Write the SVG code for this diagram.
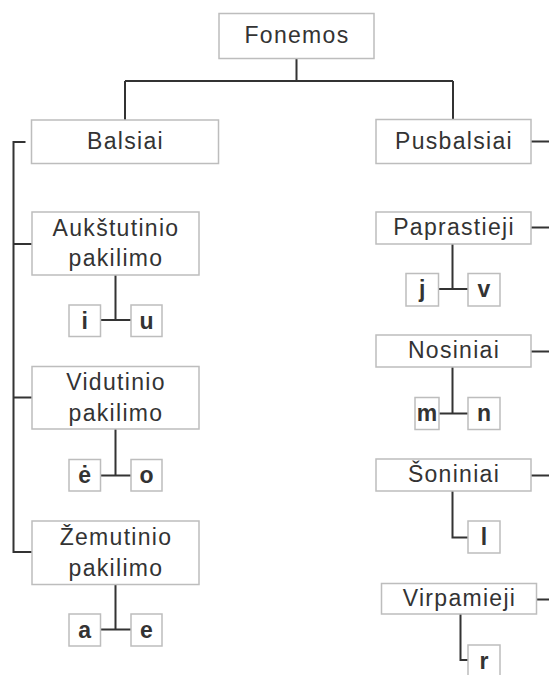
<svg xmlns="http://www.w3.org/2000/svg" width="549" height="675" viewBox="0 0 549 675">
  <style>
    .box { fill: #ffffff; stroke: #bdbdbd; stroke-width: 1.5; }
    .lbl { font-family: "Liberation Sans", Arial, sans-serif; font-size: 23px; letter-spacing: 1.3px; fill: #333333; text-anchor: middle; }
    .ph { font-family: "Liberation Sans", Arial, sans-serif; font-size: 23px; font-weight: bold; fill: #333333; text-anchor: middle; }
    .wire { fill: none; stroke: #333333; stroke-width: 2; }
  </style>
  <rect width="549" height="675" fill="#ffffff"/>

  <!-- connectors -->
  <g id="connectors" class="wire">
    <path d="M296.5,58.5 V81 M125,81 H453 M125,81 V120 M453,81 V119.5"/>
    <path d="M25.5,142 H13.5 V552 H32 M13.5,244 H32 M13.5,397.5 H32"/>
    <path d="M531,141.5 H549 M531,227.5 H549 M531,351.5 H549 M531,475.5 H549 M536.5,599.5 H549"/>
    <path d="M115.5,275 V320 M100.5,320 H131"/>
    <path d="M115.5,429 V475.5 M100.5,475.5 H131"/>
    <path d="M115.5,584.5 V629.5 M100.5,629.5 H131"/>
    <path d="M452.5,244 V289 M438.5,289 H468"/>
    <path d="M452.5,367 V413.5 M439,413.5 H468"/>
    <path d="M452.5,491 V537.5 H468"/>
    <path d="M460.5,614 V660 H468"/>
  </g>

  <!-- root -->
  <g id="fonemos">
    <rect class="box" x="219" y="13.5" width="155" height="45"/>
    <text class="lbl" x="297" y="43">Fonemos</text>
  </g>

  <!-- vowels -->
  <g id="balsiai">
    <rect class="box" x="31.5" y="120" width="187" height="43.5"/>
    <text class="lbl" x="125.5" y="149">Balsiai</text>
  </g>
  <g id="aukstutinio">
    <rect class="box" x="32" y="212" width="167" height="63"/>
    <text class="lbl" x="116" y="235.5">Aukštutinio</text>
    <text class="lbl" x="116" y="266">pakilimo</text>
  </g>
  <g id="vidutinio">
    <rect class="box" x="32" y="366.5" width="167" height="62.5"/>
    <text class="lbl" x="116" y="390">Vidutinio</text>
    <text class="lbl" x="116" y="420.5">pakilimo</text>
  </g>
  <g id="zemutinio">
    <rect class="box" x="32" y="521" width="167" height="63.5"/>
    <text class="lbl" x="116" y="545">Žemutinio</text>
    <text class="lbl" x="116" y="576">pakilimo</text>
  </g>
  <g id="v-i"><rect class="box" x="69" y="305" width="31.5" height="31.5"/><text class="ph" x="84.75" y="328.5">i</text></g>
  <g id="v-u"><rect class="box" x="131" y="305" width="31" height="31.5"/><text class="ph" x="146.5" y="328.5">u</text></g>
  <g id="v-e-dot"><rect class="box" x="69" y="459.5" width="31.5" height="31.5"/><text class="ph" x="84.75" y="483">ė</text></g>
  <g id="v-o"><rect class="box" x="131" y="459.5" width="31" height="31.5"/><text class="ph" x="146.5" y="483">o</text></g>
  <g id="v-a"><rect class="box" x="69" y="614" width="31.5" height="32"/><text class="ph" x="84.75" y="637.5">a</text></g>
  <g id="v-e"><rect class="box" x="131" y="614" width="31" height="32"/><text class="ph" x="146.5" y="637.5">e</text></g>

  <!-- semivowels -->
  <g id="pusbalsiai">
    <rect class="box" x="376" y="119.5" width="155" height="44"/>
    <text class="lbl" x="454" y="149">Pusbalsiai</text>
  </g>
  <g id="paprastieji">
    <rect class="box" x="376" y="212" width="155" height="32"/>
    <text class="lbl" x="454" y="235">Paprastieji</text>
  </g>
  <g id="nosiniai">
    <rect class="box" x="376" y="335" width="155" height="32"/>
    <text class="lbl" x="454" y="358">Nosiniai</text>
  </g>
  <g id="soniniai">
    <rect class="box" x="376" y="459" width="155" height="32"/>
    <text class="lbl" x="454" y="482">Šoniniai</text>
  </g>
  <g id="virpamieji">
    <rect class="box" x="381.5" y="583.5" width="155" height="30.5"/>
    <text class="lbl" x="459.5" y="606">Virpamieji</text>
  </g>
  <g id="s-j"><rect class="box" x="406" y="273.5" width="32.5" height="32.5"/><text class="ph" x="422.25" y="297">j</text></g>
  <g id="s-v"><rect class="box" x="468" y="273.5" width="32" height="32.5"/><text class="ph" x="484" y="297">v</text></g>
  <g id="s-m"><rect class="box" x="415" y="397.5" width="24" height="32"/><text class="ph" x="427" y="421">m</text></g>
  <g id="s-n"><rect class="box" x="468" y="397.5" width="32" height="32"/><text class="ph" x="484" y="421">n</text></g>
  <g id="s-l"><rect class="box" x="468" y="521" width="32" height="32"/><text class="ph" x="484" y="545">l</text></g>
  <g id="s-r"><rect class="box" x="468" y="645" width="32" height="32"/><text class="ph" x="484" y="669">r</text></g>
</svg>
